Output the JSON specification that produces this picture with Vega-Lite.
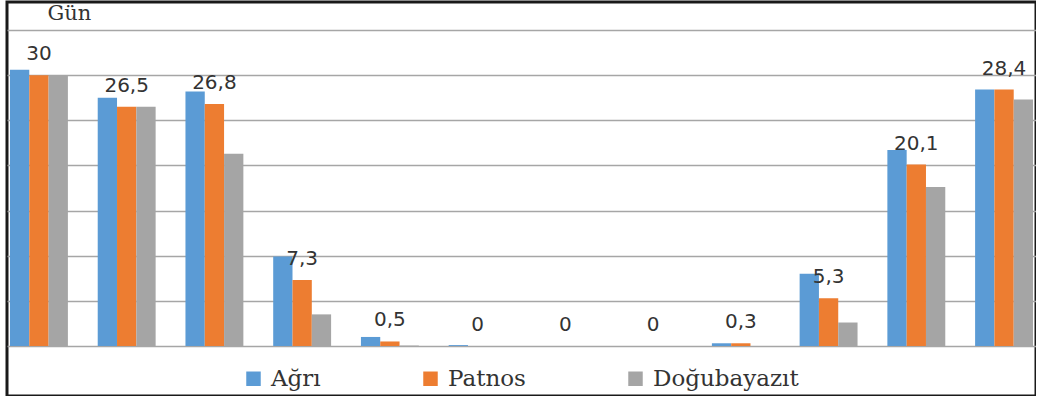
{
  "$schema": "https://vega.github.io/schema/vega-lite/v6.json",
  "width": 1029,
  "height": 394,
  "autosize": {"type": "none"},
  "padding": {"left": 7, "top": 2, "right": 0, "bottom": 0},
  "background": "white",
  "config": {
    "locale": {"number": {"decimal": ",", "thousands": ".", "grouping": [3], "currency": ["", " TL"]}},
    "view": {"stroke": "#1a1a1a", "strokeWidth": 3}
  },
  "data": {
    "values": [
      {"ay": "Ocak", "yer": "Ağrı", "gun": 30.6},
      {"ay": "Ocak", "yer": "Patnos", "gun": 30},
      {"ay": "Ocak", "yer": "Doğubayazıt", "gun": 30},
      {"ay": "Şubat", "yer": "Ağrı", "gun": 27.5},
      {"ay": "Şubat", "yer": "Patnos", "gun": 26.5},
      {"ay": "Şubat", "yer": "Doğubayazıt", "gun": 26.5},
      {"ay": "Mart", "yer": "Ağrı", "gun": 28.2},
      {"ay": "Mart", "yer": "Patnos", "gun": 26.8},
      {"ay": "Mart", "yer": "Doğubayazıt", "gun": 21.3},
      {"ay": "Nisan", "yer": "Ağrı", "gun": 9.9},
      {"ay": "Nisan", "yer": "Patnos", "gun": 7.3},
      {"ay": "Nisan", "yer": "Doğubayazıt", "gun": 3.5},
      {"ay": "Mayıs", "yer": "Ağrı", "gun": 1.0},
      {"ay": "Mayıs", "yer": "Patnos", "gun": 0.5},
      {"ay": "Mayıs", "yer": "Doğubayazıt", "gun": 0.05},
      {"ay": "Haziran", "yer": "Ağrı", "gun": 0.1},
      {"ay": "Haziran", "yer": "Patnos", "gun": 0},
      {"ay": "Haziran", "yer": "Doğubayazıt", "gun": 0},
      {"ay": "Temmuz", "yer": "Ağrı", "gun": 0},
      {"ay": "Temmuz", "yer": "Patnos", "gun": 0},
      {"ay": "Temmuz", "yer": "Doğubayazıt", "gun": 0},
      {"ay": "Ağustos", "yer": "Ağrı", "gun": 0},
      {"ay": "Ağustos", "yer": "Patnos", "gun": 0},
      {"ay": "Ağustos", "yer": "Doğubayazıt", "gun": 0},
      {"ay": "Eylül", "yer": "Ağrı", "gun": 0.3},
      {"ay": "Eylül", "yer": "Patnos", "gun": 0.3},
      {"ay": "Eylül", "yer": "Doğubayazıt", "gun": 0},
      {"ay": "Ekim", "yer": "Ağrı", "gun": 8.0},
      {"ay": "Ekim", "yer": "Patnos", "gun": 5.3},
      {"ay": "Ekim", "yer": "Doğubayazıt", "gun": 2.6},
      {"ay": "Kasım", "yer": "Ağrı", "gun": 21.7},
      {"ay": "Kasım", "yer": "Patnos", "gun": 20.1},
      {"ay": "Kasım", "yer": "Doğubayazıt", "gun": 17.6},
      {"ay": "Aralık", "yer": "Ağrı", "gun": 28.4},
      {"ay": "Aralık", "yer": "Patnos", "gun": 28.4},
      {"ay": "Aralık", "yer": "Doğubayazıt", "gun": 27.3}
    ]
  },
  "encoding": {
    "x": {
      "field": "ay",
      "type": "nominal",
      "sort": ["Ocak", "Şubat", "Mart", "Nisan", "Mayıs", "Haziran", "Temmuz", "Ağustos", "Eylül", "Ekim", "Kasım", "Aralık"],
      "axis": null,
      "scale": {"paddingInner": 0.34, "paddingOuter": 0.034}
    },
    "xOffset": {
      "field": "yer",
      "type": "nominal",
      "scale": {"domain": ["Ağrı", "Patnos", "Doğubayazıt"]}
    },
    "y": {
      "field": "gun",
      "type": "quantitative",
      "scale": {"domain": [-5.54, 38.1], "nice": false},
      "axis": {
        "title": "Gün",
        "values": [0, 5, 10, 15, 20, 25, 30, 35],
        "labels": false,
        "ticks": false,
        "domain": false,
        "grid": true,
        "gridColor": "#a6a6a6",
        "gridWidth": 1.5,
        "titleAngle": 0,
        "titleAlign": "left",
        "titleBaseline": "middle",
        "titleX": 40,
        "titleY": 11,
        "titleFont": "DejaVu Serif",
        "titleFontSize": 21,
        "titleFontWeight": "normal",
        "titleColor": "#333333"
      }
    }
  },
  "layer": [
    {
      "mark": {"type": "bar"},
      "encoding": {
        "y2": {"datum": 0},
        "color": {
          "field": "yer",
          "type": "nominal",
          "scale": {"domain": ["Ağrı", "Patnos", "Doğubayazıt"], "range": ["#5b9bd5", "#ed7d31", "#a5a5a5"]},
          "legend": {
            "orient": "none",
            "legendX": 235,
            "legendY": 365,
            "direction": "horizontal",
            "title": null,
            "symbolType": "square",
            "symbolSize": 210,
            "symbolStrokeWidth": 0,
            "labelFont": "DejaVu Serif",
            "labelFontSize": 23,
            "labelColor": "#333333",
            "labelOffset": 6,
            "columnPadding": 98
          }
        }
      }
    },
    {
      "transform": [{"filter": "datum.yer === 'Patnos'"}],
      "mark": {"type": "text", "dy": -21, "baseline": "middle", "align": "center", "font": "DejaVu Sans", "fontSize": 20, "color": "#333333"},
      "encoding": {
        "text": {"field": "gun", "type": "quantitative", "format": ".1~f"}
      }
    }
  ]
}
